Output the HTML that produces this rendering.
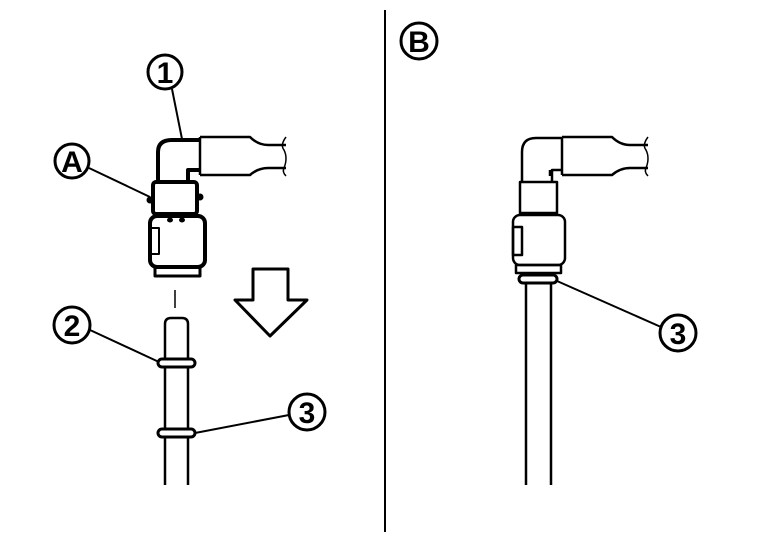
<!DOCTYPE html>
<html><head><style>
html,body{margin:0;padding:0;background:#fff;width:768px;height:544px;overflow:hidden}
text{font-family:"Liberation Sans",sans-serif;font-weight:bold;font-size:30px;text-anchor:middle}
</style></head><body>
<svg width="768" height="544" viewBox="0 0 768 544" xmlns="http://www.w3.org/2000/svg" fill="none" stroke="#000" stroke-linejoin="round">
<line x1="385" y1="10" x2="385" y2="532" stroke-width="2"/>
<!-- LEFT -->
<path d="M200 137 H250 Q258 145 268 145 H286 M200 175 H250 Q258 168 268 168 H286" stroke-width="2.5"/>
<path d="M286 137 Q280 145 284 150 Q288 158 284 168 Q282 172 286 176" stroke-width="1.5"/>
<line x1="200" y1="137" x2="200" y2="175" stroke-width="2.5"/>
<path d="M158 182 V152 Q158 140 172 140 H200 M188 182 V170 H200" stroke-width="4"/>
<rect x="153" y="182" width="44" height="32" rx="3" stroke-width="4"/>
<circle cx="150" cy="200" r="3" fill="#000"/><circle cx="200" cy="197" r="3" fill="#000"/>
<rect x="150" y="216" width="55" height="51" rx="7" stroke-width="4"/>
<rect x="151" y="228" width="8" height="26" stroke-width="2"/>
<ellipse cx="170" cy="220" rx="2.5" ry="2" fill="#000"/><ellipse cx="182" cy="220" rx="2.5" ry="2" fill="#000"/>
<rect x="155" y="267" width="45" height="9" stroke-width="3"/>
<line x1="175" y1="290" x2="175" y2="308" stroke-width="1.5"/>
<path d="M253 269 H288 V300 H307 L270 336 L235 300 H253 Z" stroke-width="3"/>
<path d="M165 485 V324 Q165 318 171 318 H182 Q188 318 188 324 V485" stroke-width="2.5"/>
<rect x="158" y="359" width="37" height="8" rx="4" fill="#fff" stroke-width="3"/>
<rect x="158" y="429" width="37" height="8" rx="4" fill="#fff" stroke-width="3"/>
<circle cx="165" cy="72" r="17" stroke-width="3"/><text x="165" y="83" fill="#000" stroke="none">1</text>
<line x1="172" y1="89" x2="182" y2="139" stroke-width="2"/>
<circle cx="72" cy="161" r="17" stroke-width="3"/><text x="72" y="172" fill="#000" stroke="none">A</text>
<line x1="89" y1="168" x2="150" y2="197" stroke-width="2"/>
<circle cx="72" cy="325" r="18" stroke-width="3"/><text x="72" y="336" fill="#000" stroke="none">2</text>
<line x1="90" y1="330" x2="159" y2="362" stroke-width="2"/>
<circle cx="307" cy="412" r="18" stroke-width="3"/><text x="307" y="423" fill="#000" stroke="none">3</text>
<line x1="289" y1="415" x2="195" y2="433" stroke-width="2"/>
<circle cx="419" cy="41" r="18" stroke-width="3"/><text x="419" y="52" fill="#000" stroke="none">B</text>
<!-- RIGHT -->
<path d="M562 137 H612 Q620 145 630 145 H648 M562 175 H612 Q620 168 630 168 H648" stroke-width="2.5"/>
<path d="M648 137 Q642 145 646 150 Q650 158 646 168 Q644 172 648 176" stroke-width="1.5"/>
<line x1="562" y1="137" x2="562" y2="175" stroke-width="2.5"/>
<path d="M522 182 V152 Q522 138 536 138 H562 M552 182 V170 H562 M550 170 V176" stroke-width="2.5"/>
<rect x="520" y="182" width="37" height="31" stroke-width="2.5"/>
<rect x="513" y="215" width="52" height="50" rx="7" stroke-width="2.5"/>
<rect x="513" y="227" width="9" height="28" stroke-width="2.5"/>
<rect x="516" y="265" width="45" height="8" stroke-width="2.5"/>
<rect x="519" y="275" width="38" height="8" rx="4" stroke-width="3"/>
<path d="M526 485 V284 M551 485 V284" stroke-width="2.5"/>
<line x1="557" y1="281" x2="661" y2="327" stroke-width="2"/>
<circle cx="678" cy="333" r="18" stroke-width="3"/><text x="678" y="344" fill="#000" stroke="none">3</text>
</svg>
</body></html>
